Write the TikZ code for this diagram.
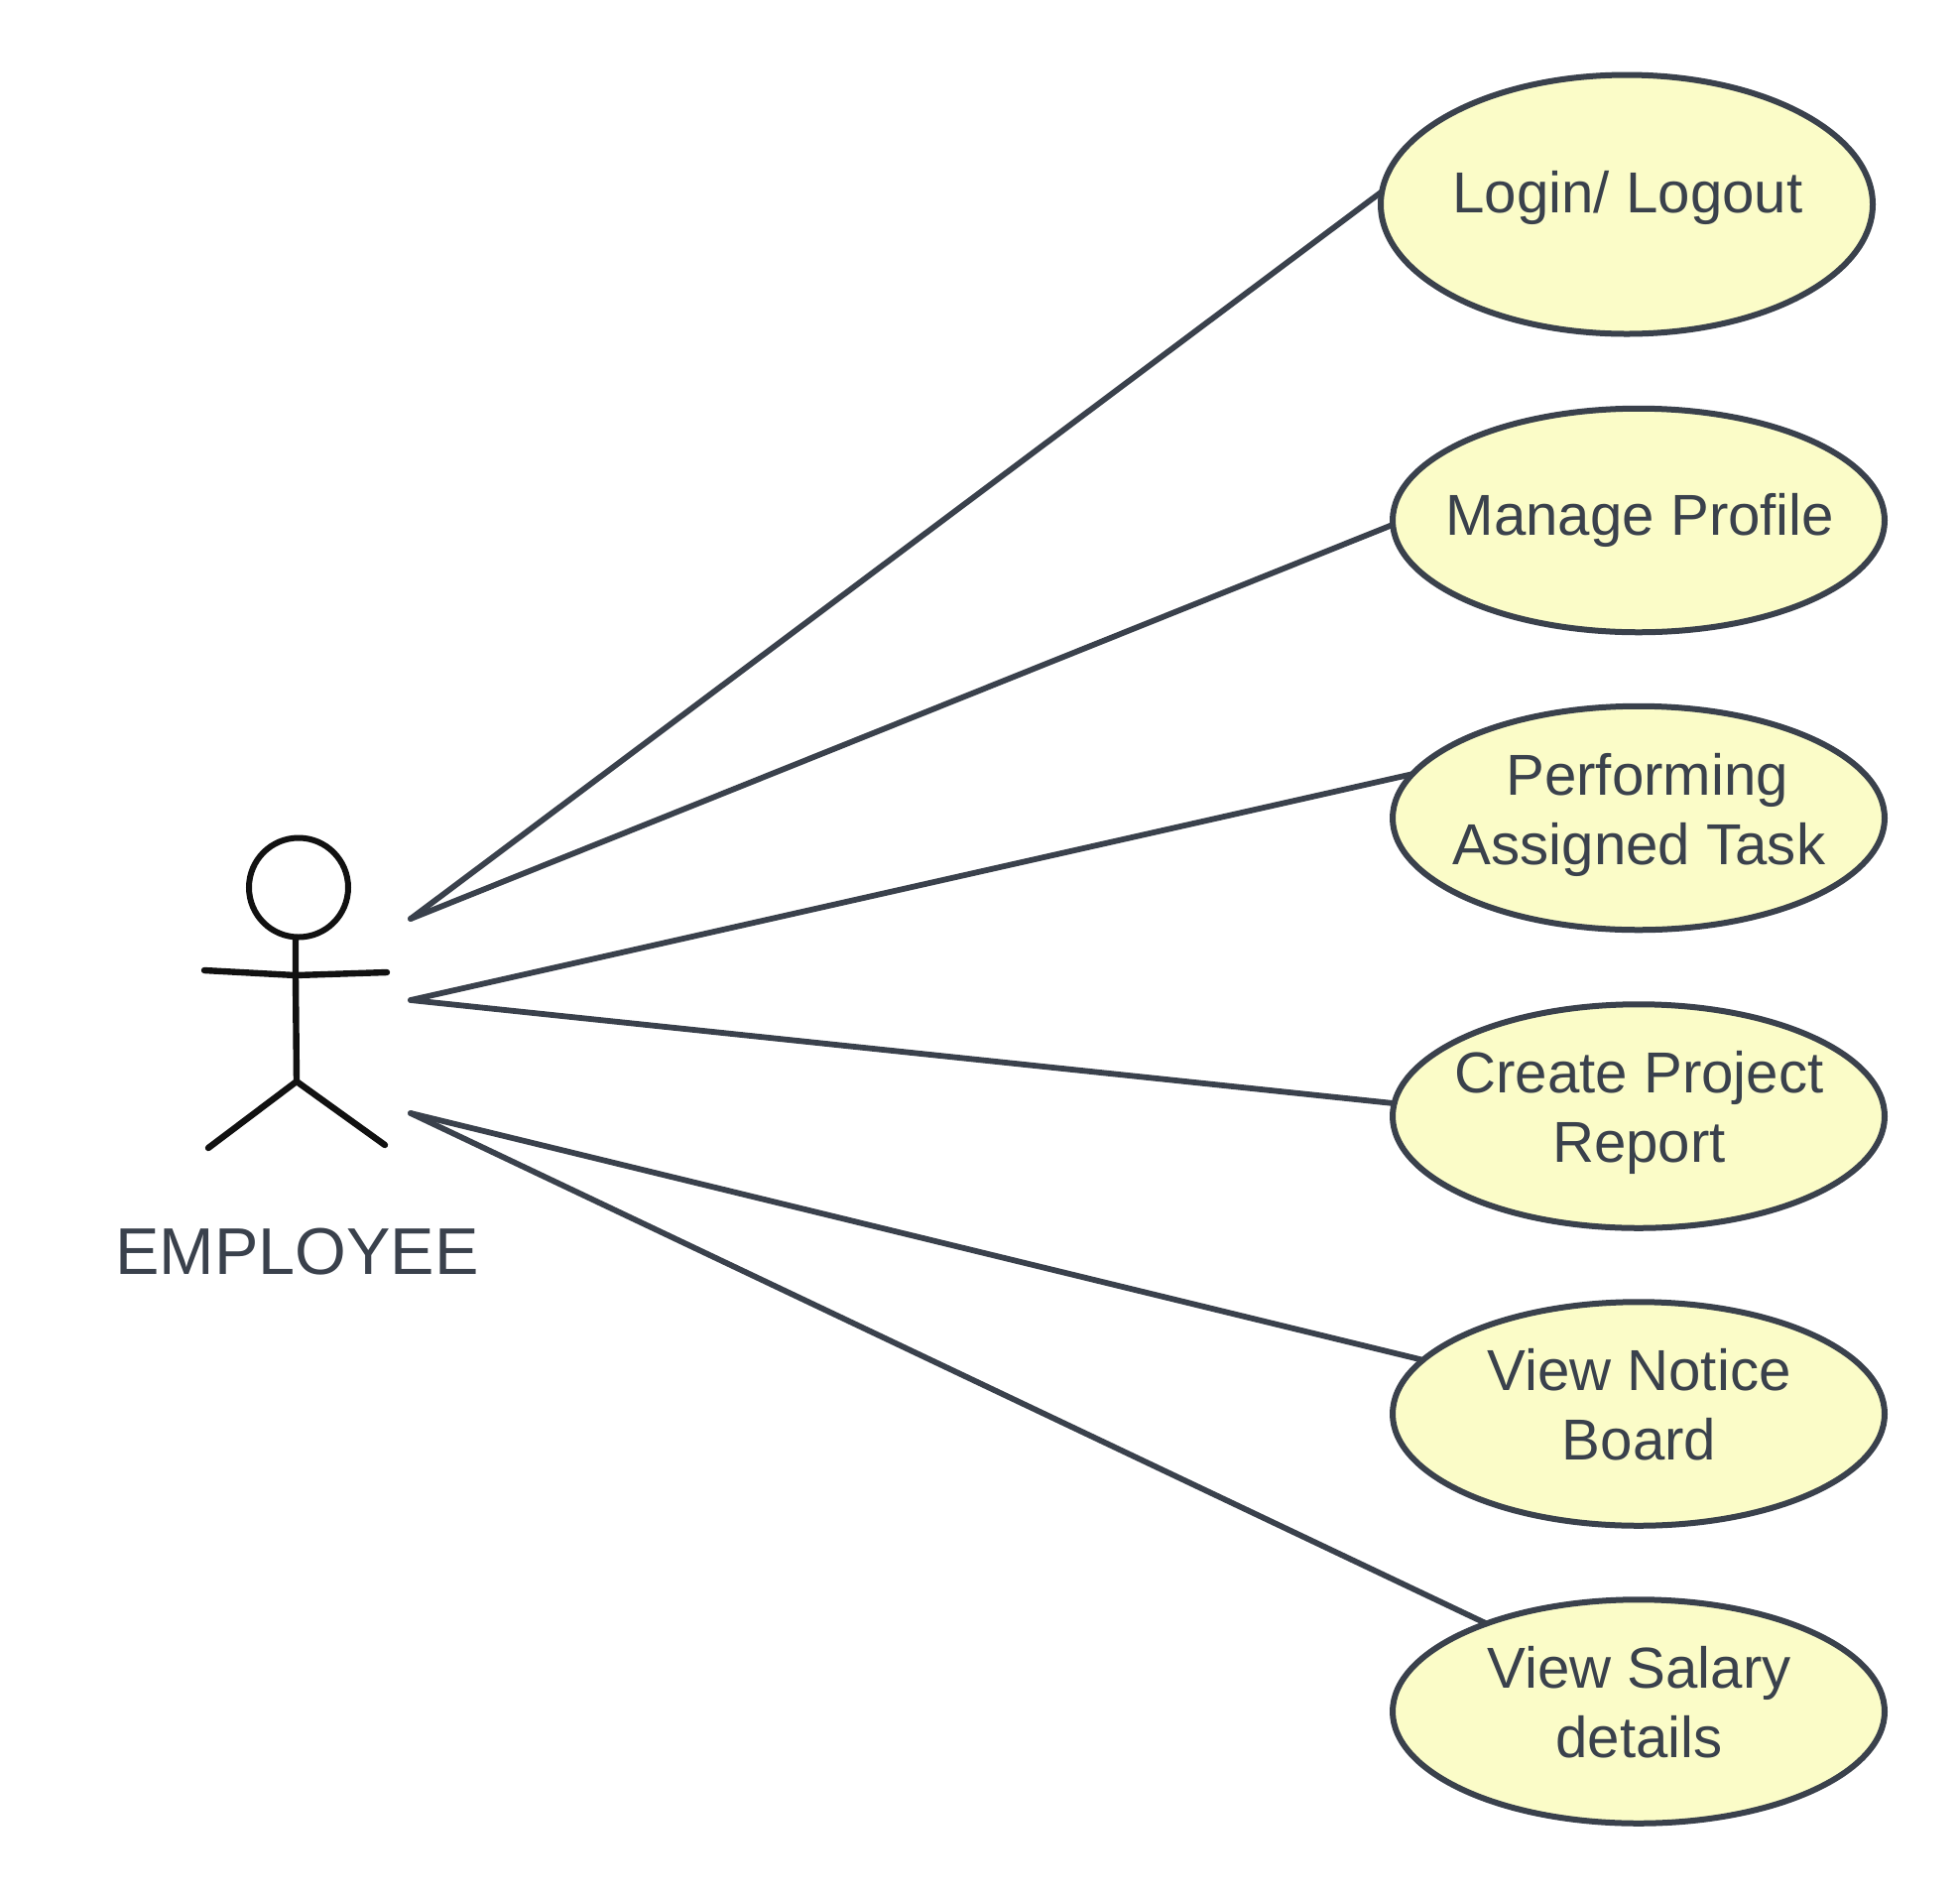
\documentclass[tikz,border=0pt]{standalone}
\usepackage{fontspec}
\setmainfont{Liberation Sans}
\usetikzlibrary{shapes.geometric}
\definecolor{ink}{HTML}{3A414C}
\definecolor{usefill}{HTML}{FBFCC8}
\definecolor{stick}{HTML}{111111}
\tikzset{
  usecase/.style={ellipse,draw=ink,fill=usefill,line width=3pt,inner sep=0pt,outer sep=0pt,minimum width=248pt,minimum height=112.75pt},
  usetext/.style={text=ink,font=\fontsize{29.1}{35}\selectfont,align=center,inner sep=0pt,outer sep=0pt,anchor=center},
  link/.style={draw=ink,line width=2.9pt,line cap=round},
  figure/.style={draw=stick,line width=3.2pt,line cap=round,line join=round}
}
\begin{document}
\begin{tikzpicture}[x=0.5pt,y=-0.5pt]
\useasboundingbox (0,0) rectangle (1976,1913);
% use cases
\node[usecase,minimum height=130.5pt] (e1) at (1640,206) {};
\node[usecase] (e2) at (1652,524.5) {};
\node[usecase] (e3) at (1652,824.5) {};
\node[usecase] (e4) at (1652,1125) {};
\node[usecase] (e5) at (1652,1425) {};
\node[usecase] (e6) at (1652,1725) {};
% connector ends at the actor
\coordinate (a1) at (414,926);
\coordinate (a2) at (414,1008);
\coordinate (a3) at (414,1122);
\draw[link] (a1) -- (e1.177.8);
\draw[link] (a1) -- (e2.181.2);
\draw[link] (a2) -- (e3.169.5);
\draw[link] (a2) -- (e4.177);
\draw[link] (a3) -- (e5.166.3);
\draw[link] (a3) -- (e6.150.5);
% texts
\node[usetext] (t1) at (1641,199.5) {Login/ Logout};
\node[usetext] (t2) at (1653.5,524) {Manage Profile};
\node[usetext] (t3) at (1652.5,821.5) {\hspace*{8.2pt}Performing\\Assigned Task};
\node[usetext] (t4) at (1652.5,1121) {Create Project\\Report};
\node[usetext] (t5) at (1652.5,1415.5) {View Notice\\Board};
\node[usetext] (t6) at (1652.5,1716) {View Salary\\details};
% actor
\node[draw=stick,line width=3pt,circle,minimum size=50pt,inner sep=0pt,outer sep=0pt,fill=none] (head) at (301,894.5) {};
\coordinate (neck) at (298,945);
\coordinate (shoulder) at (298,983);
\coordinate (waist) at (299,1090);
\coordinate (handl) at (206,978);
\coordinate (handr) at (390,980);
\coordinate (footl) at (210,1157);
\coordinate (footr) at (388,1154);
\draw[figure] (neck) -- (shoulder) -- (waist);
\draw[figure] (handl) -- (shoulder) -- (handr);
\draw[figure] (footl) -- (waist) -- (footr);
\node[text=ink,font=\fontsize{33.3}{39}\selectfont,inner sep=0pt,outer sep=0pt] (actorname) at (299.5,1262) {EMPLOYEE};
\end{tikzpicture}
\end{document}
